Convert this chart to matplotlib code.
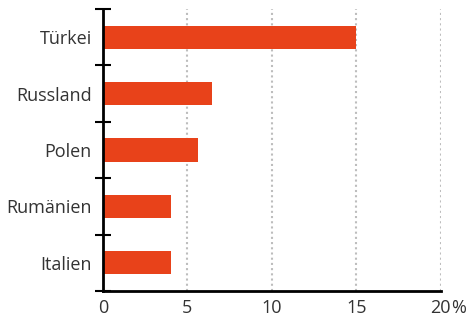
import matplotlib
matplotlib.use("Agg")
import matplotlib.pyplot as plt
import numpy as np

categories = ["Türkei", "Russland", "Polen", "Rumänien", "Italien"]
values = [15.0, 6.45, 5.6, 4.0, 4.0]
xticks = [0, 5, 10, 15, 20]
xticklabels = ["0", "5", "10", "15", "20"]

plt.rcParams['font.family'] = ['Open Sans', 'DejaVu Sans']

fig = plt.figure(figsize=(4.68, 3.2), dpi=100)
ax = fig.add_axes([0.220, 0.0906, 0.722, 0.8814])

n = len(categories)
ypos = np.arange(n)[::-1]
ax.barh(ypos, values, height=0.41, color="#E8421A", zorder=3)

ax.set_xlim(0, 20)
ax.set_ylim(-0.5, n - 0.5)
ax.set_xticks(xticks)
ax.set_xticklabels(xticklabels)
ax.set_yticks(ypos)
ax.set_yticklabels(categories)
ax.set_yticks(np.arange(-0.5, n, 1.0), minor=True)

for x in xticks[1:]:
    ax.axvline(x, color="#bdbdbd", linestyle=(0, (1, 1.5)), linewidth=1.5, zorder=1)

for s in ["top", "right"]:
    ax.spines[s].set_visible(False)
for s in ["left", "bottom"]:
    ax.spines[s].set_linewidth(2)
    ax.spines[s].set_color("black")
    ax.spines[s].set_zorder(4)

ax.tick_params(axis="y", which="major", length=0, pad=8, labelsize=13, labelcolor="#333333")
ax.tick_params(axis="y", which="minor", length=12, width=1.5, direction="inout", color="black")
ax.tick_params(axis="x", which="major", length=0, pad=6, labelsize=13, labelcolor="#333333")

ax.text(20.45, -0.5, "%", transform=ax.transData, ha="left", va="top",
        fontsize=13, color="#333333")
# place % right after the 20 label
fig.canvas.draw()
lbl = ax.get_xticklabels()[-1]
bb = lbl.get_window_extent()
fig.texts.clear() if hasattr(fig, 'texts') else None
for t in list(ax.texts):
    t.remove()
fig.text(bb.x1 / fig.bbox.width, bb.y0 / fig.bbox.height, "%", ha="left", va="bottom",
         fontsize=13, color="#333333")

fig.savefig("out.png", dpi=100)
